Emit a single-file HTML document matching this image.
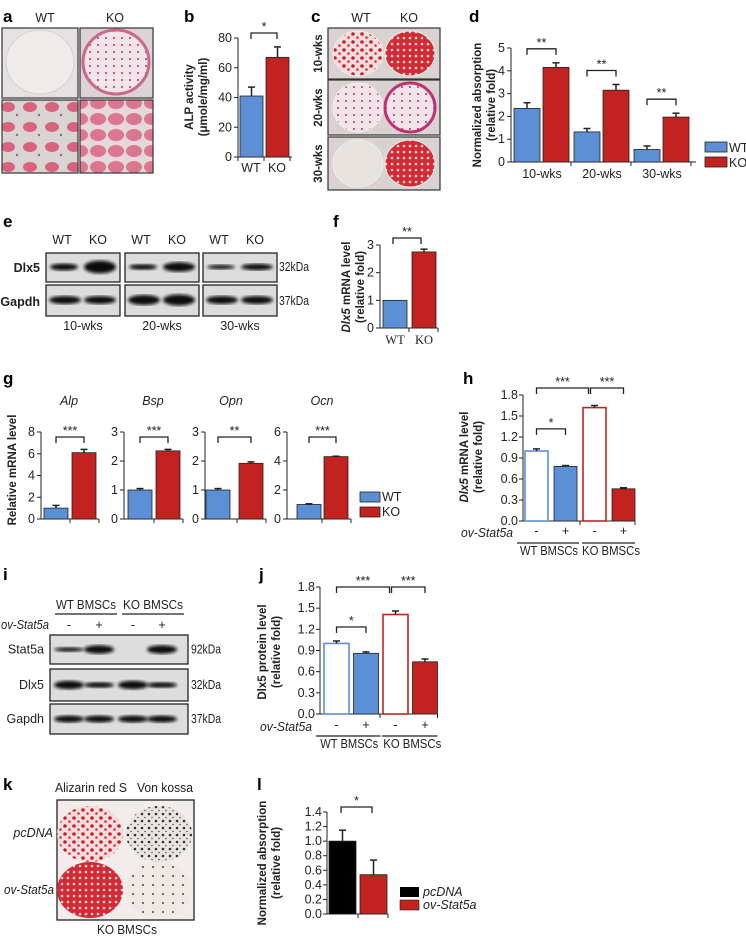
<!DOCTYPE html>
<html><head><meta charset="utf-8"><style>
html,body{margin:0;padding:0;background:#fff}
svg{display:block;font-family:"Liberation Sans Narrow","Liberation Sans",sans-serif}
.lbl{font-family:"Liberation Sans",sans-serif;font-weight:bold;font-size:17px}
.t{font-size:12.5px;fill:#222}
.ti{font-family:"Liberation Sans",sans-serif;font-weight:bold;font-size:11.5px;fill:#222}
</style></head><body>
<svg id="fig" width="746" height="937" viewBox="0 0 746 937" xmlns="http://www.w3.org/2000/svg">
<defs>
<pattern id="speck" width="9" height="8" patternUnits="userSpaceOnUse"><rect width="9" height="8" fill="#f3dede"/><circle cx="2" cy="2" r="1.8" fill="#c8202a"/><circle cx="6.5" cy="5.5" r="1.3" fill="#d63040"/></pattern>
<pattern id="speck2" width="6" height="6" patternUnits="userSpaceOnUse"><rect width="6" height="6" fill="#d42a35"/><circle cx="2" cy="2" r="1.3" fill="#f6d8d8"/></pattern>
<pattern id="speck3" width="8" height="7" patternUnits="userSpaceOnUse"><rect width="8" height="7" fill="#f2e4e8"/><circle cx="2" cy="3" r="1" fill="#c0305a"/></pattern>
<pattern id="dark" width="7" height="7" patternUnits="userSpaceOnUse"><rect width="7" height="7" fill="#e9e4e0"/><circle cx="2" cy="2" r="1.3" fill="#333"/><circle cx="5" cy="5.5" r="0.8" fill="#555"/></pattern>
<pattern id="dark2" width="10" height="9" patternUnits="userSpaceOnUse"><rect width="10" height="9" fill="#eee9e4"/><circle cx="3" cy="3" r="1" fill="#444"/></pattern>
<pattern id="cells" width="22" height="20" patternUnits="userSpaceOnUse"><rect width="22" height="20" fill="#d9d4d2"/><ellipse cx="8" cy="7" rx="7" ry="5" fill="#d9637f"/><circle cx="17" cy="15" r="1.2" fill="#777"/></pattern>
<pattern id="cells2" width="18" height="16" patternUnits="userSpaceOnUse"><rect width="18" height="16" fill="#e5d7da"/><ellipse cx="8" cy="7" rx="8" ry="6" fill="#dc7690"/></pattern>
<filter id="blur"><feGaussianBlur stdDeviation="1.6"/></filter>
</defs>
<g id="static"></g>
<g id="charts"></g>
</svg>
<script>
// ---------- data ----------
const bCats = ["WT","KO"];
const bVals = [41, 67];
const bErr = [6, 7];
const bTicks = [0,20,40,60,80];

const dCats = ["10-wks","20-wks","30-wks"];
const dWT = [2.35, 1.32, 0.55];
const dKO = [4.15, 3.15, 1.97];
const dWTErr = [0.25, 0.15, 0.15];
const dKOErr = [0.2, 0.25, 0.17];
const dTicks = [0,1,2,3,4,5];

const fCats = ["WT","KO"];
const fVals = [1.0, 2.75];
const fErr = [0, 0.1];
const fTicks = [0,1,2,3];

const gGenes = ["Alp","Bsp","Opn","Ocn"];
const gWT = [1.0, 1.0, 1.0, 1.0];
const gKO = [6.1, 2.35, 1.92, 4.3];
const gWTErr = [0.25, 0.05, 0.05, 0.05];
const gKOErr = [0.3, 0.05, 0.05, 0.03];
const gMax = [8, 3, 3, 6];
const gTicks = [[0,2,4,6,8],[0,1,2,3],[0,1,2,3],[0,2,4,6]];
const gSig = ["***","***","**","***"];

const hCats = ["-","+","-","+"];
const hVals = [1.0, 0.78, 1.62, 0.46];
const hErr = [0.03, 0.012, 0.03, 0.015];
const hTicks = [0,0.3,0.6,0.9,1.2,1.5,1.8];

const jCats = ["-","+","-","+"];
const jVals = [1.0, 0.86, 1.41, 0.74];
const jErr = [0.035, 0.02, 0.05, 0.04];
const jTicks = [0,0.3,0.6,0.9,1.2,1.5,1.8];

const lCats = ["pcDNA","ov-Stat5a"];
const lVals = [1.0, 0.54];
const lErr = [0.15, 0.2];
const lTicks = [0,0.2,0.4,0.6,0.8,1.0,1.2,1.4];

const BLUE="#5c8fd5", RED="#c3231f";
const NS="http://www.w3.org/2000/svg";
const charts=document.getElementById('charts');
const stat=document.getElementById('static');
function mk(tag,attrs,parent){const e=document.createElementNS(NS,tag);for(const k in attrs)e.setAttribute(k,attrs[k]);(parent||charts).appendChild(e);return e;}
function txt(x,y,s,cls,parent,anchor,extra){const e=mk('text',Object.assign({x:x,y:y,class:cls||'t','text-anchor':anchor||'middle'},extra||{}),parent);e.textContent=s;return e;}
function sq(len){return {textLength:len,lengthAdjust:'spacingAndGlyphs'};}
function line(x1,y1,x2,y2,p,w){return mk('line',{x1:x1,y1:y1,x2:x2,y2:y2,stroke:'#222','stroke-width':w||1},p);}

function yScale(base,top,max){return v=>base-(base-top)*v/max;}
function yAxis(g,x,base,top,max,ticks,dec,lx){
  const y=yScale(base,top,max);
  line(x,top,x,base,g);
  ticks.forEach(t=>{line(x-4,y(t),x,y(t),g);
    const tl=txt(lx,y(t)+4,t.toFixed(dec),'t',g,'end');
    });
  return y;
}
function bar(g,x,w,v,e,y,fill,stroke,name){
  const r=mk('rect',{x:x,y:y(v),width:w,height:y(0)-y(v),fill:fill,stroke:stroke||'#222','stroke-width':stroke?1.6:0.8},g);
  
  if(e>0){const cx=x+w/2;line(cx,y(v),cx,y(v+e),g,1.5);line(cx-3.5,y(v+e),cx+3.5,y(v+e),g,1.5);}
  return r;
}
function bracket(g,x1,x2,yy,s,name){
  const p=mk('path',{d:`M${x1},${yy+6}V${yy}H${x2}V${yy+6}`,fill:'none',stroke:'#222','stroke-width':1.3},g);
  
  txt((x1+x2)/2,yy-2,s,'t',g,'middle',{'font-size':'12'});
}
function group(name){const g=mk('g',{});return g;}
function rotTitle(g,x,y,lines){lines.forEach((s,i)=>{txt(x+i*14,y,s,'ti',g,'middle',{transform:`rotate(-90 ${x+i*14} ${y})`});});}

// ---- panel b ----
(function(){const g=group('chart-b-alp-activity');
  const y=yAxis(g,238,157,38,80,bTicks,0,232);
  line(238,157,292,157,g);[238,264,290].forEach(x=>line(x,157,x,161,g));
  const cols=[BLUE,RED];
  bVals.forEach((v,i)=>{bar(g,240+i*26,23,v,bErr[i],y,cols[i],null,'bar-b-'+bCats[i].toLowerCase());txt(251+i*26,172,bCats[i],'t',g);});
  bracket(g,251,277,33,'*','sig-bracket-b');
  rotTitle(g,193,97,['ALP activity','(μmole/mg/ml)']);
})();

// ---- panel d ----
(function(){const g=group('chart-d-normalized-absorption');
  const y=yAxis(g,511,162,48,5,dTicks,0,505);
  line(511,162,696,162,g);
  dCats.forEach((c,i)=>{const x0=514+i*60;
    bar(g,x0,26,dWT[i],dWTErr[i],y,BLUE,null,'bar-d-wt-'+c);
    bar(g,x0+29,26,dKO[i],dKOErr[i],y,RED,null,'bar-d-ko-'+c);
    line(x0+57,162,x0+57,166,g);
    txt(x0+28,178,c,'t',g);
    bracket(g,x0+13,x0+42,y(Math.max(dWT[i]+dWTErr[i],dKO[i]+dKOErr[i]))-14,'**','sig-bracket-d');
  });
  rotTitle(g,481,105,['Normalized absorption','(relative fold)']);
  const lg=group('legend-d');
  mk('rect',{x:705,y:142,width:22,height:10,fill:BLUE,stroke:'#222','stroke-width':0.8},lg);
  mk('rect',{x:705,y:157,width:22,height:10,fill:RED,stroke:'#222','stroke-width':0.8},lg);
  txt(729,152,'WT','t',lg,'start');txt(729,167,'KO','t',lg,'start');
})();

// ---- panel f ----
(function(){const g=group('chart-f-dlx5-mrna');
  const y=yAxis(g,380,328,245,3,fTicks,0,374);
  line(380,328,438,328,g);[409,438].forEach(x=>line(x,328,x,332,g));
  const cols=[BLUE,RED];
  fVals.forEach((v,i)=>{bar(g,383+i*29,24,v,fErr[i],y,cols[i],null,'bar-f-'+fCats[i].toLowerCase());
    txt(395+i*29,344,fCats[i],'t',g,'middle',{'font-family':'Liberation Serif'});});
  bracket(g,393,421,238,'**','sig-bracket-f');
  const t=txt(350,287,'','ti',g,'middle',{transform:'rotate(-90 350 287)'});
  t.innerHTML='<tspan font-style="italic">Dlx5</tspan> mRNA level';
  txt(364,287,'(relative fold)','ti',g,'middle',{transform:'rotate(-90 364 287)'});
})();

// ---- panel g ----
(function(){const axX=[41,124,205,287], off=[3,4,1,10], step=[28,28,33,27];
  gGenes.forEach((gn,i)=>{const g=group('chart-g-'+gn.toLowerCase());
    const ax=axX[i];
    const y=yAxis(g,ax,519,432,gMax[i],gTicks[i],0,ax-6);
    const xl=ax+off[i]+step[i]+27;
    line(ax,519,xl,519,g);[ax+off[i]+step[i]-2,xl].forEach(x=>line(x,519,x,523,g));
    bar(g,ax+off[i],24,gWT[i],gWTErr[i],y,BLUE,null,'bar-g-wt-'+gn);
    bar(g,ax+off[i]+step[i],24,gKO[i],gKOErr[i],y,RED,null,'bar-g-ko-'+gn);
    bracket(g,ax+off[i]+12,ax+off[i]+step[i]+12,437,gSig[i],'sig-bracket-g');
    txt(ax+off[i]+25,405,gn,'t',g,'middle',{'font-style':'italic','font-size':'12.5'});
  });
  const g=group('g-axis-title');
  txt(16,470,'Relative mRNA level','ti',g,'middle',{transform:'rotate(-90 16 470)'});
  const lg=group('legend-g');
  mk('rect',{x:360,y:492,width:20,height:10,fill:BLUE,stroke:'#222','stroke-width':0.8},lg);
  mk('rect',{x:360,y:507,width:20,height:10,fill:RED,stroke:'#222','stroke-width':0.8},lg);
  txt(382,501,'WT','t',lg,'start');txt(382,516,'KO','t',lg,'start');
})();

// ---- panels h & j ----
function stat5Chart(name,vals,errs,ticks,cats,axX,base,top,first,step,w,ovY,glY,sigs,starGap){
  const g=group(name);
  const y=yAxis(g,axX,base,top,1.8,ticks,1,axX-5);
  const xEnd=first+3*step+w;
  line(axX,base,xEnd,base,g);[first+2*step-3,xEnd].forEach(x=>line(x,base,x,base+4,g));
  const fills=['#fff',BLUE,'#fff',RED], strokes=[BLUE,null,RED,null];
  vals.forEach((v,i)=>{bar(g,first+i*step,w,v,errs[i],y,fills[i],strokes[i],name+'-bar-'+i);
    txt(first+i*step+w/2,ovY,cats[i],'t',g);});
  txt(first-12,ovY+2,'ov-Stat5a','t',g,'end',Object.assign({'font-style':'italic'},sq(52)));
  line(first-8,glY,first+step+w+2,glY,g,1.2);line(first+2*step-1,glY,xEnd,glY,g,1.2);
  txt(first+step/2+w/2-2,glY+12,'WT BMSCs','t',g,'middle',sq(58));txt(first+2.5*step+w/2+2,glY+12,'KO BMSCs','t',g,'middle',sq(58));
  const c=i=>first+i*step+w/2;
  bracket(g,c(0),c(2)-6,sigs[0],'***','sig-bracket');
  bracket(g,c(2)-4,c(3),sigs[0],'***','sig-bracket');
  bracket(g,c(0),c(1),y(vals[0]+errs[0])-starGap,'*','sig-bracket');
  return g;
}
(function(){const g=stat5Chart('chart-h-dlx5-mrna',hVals,hErr,hTicks,hCats,523,521,395,525,29,23,535,543,[388],20);
  const t=txt(468,457,'','ti',g,'middle',{transform:'rotate(-90 468 457)'});
  t.innerHTML='<tspan font-style="italic">Dlx5</tspan> mRNA level';
  txt(482,457,'(relative fold)','ti',g,'middle',{transform:'rotate(-90 482 457)'});
})();
(function(){const g=stat5Chart('chart-j-dlx5-protein',jVals,jErr,jTicks,jCats,320,714,587,324,29.5,25,729,736,[587],14);
  rotTitle(g,266,652,['Dlx5 protein level','(relative fold)']);
})();

// ---- panel l ----
(function(){const g=group('chart-l-normalized-absorption');
  const y=yAxis(g,327,914,812,1.4,lTicks,1,322);
  line(327,914,388,914,g);[358,388].forEach(x=>line(x,914,x,918,g));
  const cols=['#000',RED];
  lVals.forEach((v,i)=>bar(g,329+i*31,27,v,lErr[i],y,cols[i],null,'bar-l-'+lCats[i].toLowerCase()));
  bracket(g,341,372,807,'*','sig-bracket-l');
  rotTitle(g,266,863,['Normalized absorption','(relative fold)']);
  const lg=group('legend-l');
  mk('rect',{x:400,y:887,width:19,height:10,fill:'#000'},lg);
  mk('rect',{x:400,y:900,width:19,height:10,fill:RED,stroke:'#222','stroke-width':0.6},lg);
  txt(423,896,'pcDNA','t',lg,'start',{'font-style':'italic'});txt(423,909,'ov-Stat5a','t',lg,'start',{'font-style':'italic'});
})();

// ---------- static ----------
function S(tag,attrs,name){const e=mk(tag,attrs,stat);if(name){}return e;}
[['a',3,22],['b',184,22],['c',311,22],['d',469,22],['e',3,227],['f',333,227],['g',3,384],['h',463,384],['i',3,580],['j',259,580],['k',3,790],['l',257,790]].forEach(p=>{const t=txt(p[1],p[2],p[0],'lbl',stat,'start');});
txt(45,22,'WT','t',stat);txt(115,22,'KO','t',stat);
S('rect',{x:2,y:28,width:76,height:70,fill:'#e6e2e2',stroke:'#333','stroke-width':1.2},'photo-a-wt-plate');
S('ellipse',{cx:40,cy:62,rx:34,ry:32,fill:'#eeebeb',stroke:'#d5cfcf'});
S('rect',{x:80,y:28,width:73,height:70,fill:'#ddd2d5',stroke:'#333','stroke-width':1.2},'photo-a-ko-plate');
S('ellipse',{cx:116,cy:62,rx:33,ry:32,fill:'url(#speck3)',stroke:'#c86a88','stroke-width':3});
S('rect',{x:2,y:100,width:76,height:73,fill:'url(#cells)',stroke:'#333','stroke-width':1.2},'photo-a-wt-cells');
S('rect',{x:80,y:100,width:73,height:73,fill:'url(#cells2)',stroke:'#333','stroke-width':1.2},'photo-a-ko-cells');
txt(361,22,'WT','t',stat);txt(409,22,'KO','t',stat);
[[28,79,'10-wks','url(#speck)','url(#speck2)'],[80,135,'20-wks','url(#speck3)','url(#speck3)'],[137,190,'30-wks','#e8e2df','url(#speck2)']].forEach(r=>{
  S('rect',{x:328,y:r[0],width:112,height:r[1]-r[0],fill:'#d8d2d0',stroke:'#333','stroke-width':1.2},'photo-c-'+r[2]);
  const cy=(r[0]+r[1])/2, ry=(r[1]-r[0])/2-3;
  S('ellipse',{cx:358,cy:cy,rx:25,ry:ry,fill:r[3],stroke:'#eee'});
  S('ellipse',{cx:410,cy:cy,rx:25,ry:ry,fill:r[4],stroke:r[2]=='20-wks'?'#c03070':'#eee','stroke-width':r[2]=='20-wks'?3:1});
  txt(322,cy,r[2],'ti',stat,'middle',{transform:`rotate(-90 322 ${cy})`,'font-size':'12'});
});
const eBoxes=[46,125,203];
eBoxes.forEach((x,k)=>{
  txt(x+16,244,'WT','t',stat);txt(x+52,244,'KO','t',stat);
  S('rect',{x:x,y:253,width:74,height:29,fill:'#dcdcdc',stroke:'#222','stroke-width':1.3},'blot-e-dlx5-'+k);
  S('rect',{x:x,y:285,width:74,height:31,fill:'#dcdcdc',stroke:'#222','stroke-width':1.3},'blot-e-gapdh-'+k);
  const wt=[5,4,3][k], ko=[8,6,4][k];
  S('ellipse',{cx:x+18,cy:267,rx:14,ry:wt*0.7,fill:'#111',filter:'url(#blur)'});
  S('ellipse',{cx:x+54,cy:267,rx:16,ry:ko*0.8,fill:'#111',filter:'url(#blur)'});
  S('ellipse',{cx:x+19,cy:300,rx:16,ry:k==1?5:4,fill:'#111',filter:'url(#blur)'});
  S('ellipse',{cx:x+54,cy:300,rx:16,ry:k==1?5.5:4,fill:'#111',filter:'url(#blur)'});
  txt(x+37,330,['10-wks','20-wks','30-wks'][k],'t',stat);
});
txt(40,272,'Dlx5','t',stat,'end',{'font-weight':'bold'});txt(40,306,'Gapdh','t',stat,'end',{'font-weight':'bold'});
txt(279,271,'32kDa','t',stat,'start',Object.assign({'font-size':'11'},sq(30)));txt(279,305,'37kDa','t',stat,'start',Object.assign({'font-size':'11'},sq(30)));
txt(86,609,'WT BMSCs','t',stat,'middle',sq(60));txt(153,609,'KO BMSCs','t',stat,'middle',sq(60));
line(55,614,117,614,stat,1.2);line(122,614,184,614,stat,1.2);
txt(49,629,'ov-Stat5a','t',stat,'end',Object.assign({'font-style':'italic'},sq(48)));
['-','+','-','+'].forEach((s,i)=>txt([69,99,133,162][i],629,s,'t',stat));
[[635,664,'Stat5a','92kDa',[3,6,0,6]],[669,701,'Dlx5','32kDa',[6,4,6,4]],[704,734,'Gapdh','37kDa',[5,5,5,5]]].forEach(r=>{
  S('rect',{x:50,y:r[0],width:138,height:r[1]-r[0],fill:'#dddddd',stroke:'#222','stroke-width':1.3},'blot-i-'+r[2].toLowerCase());
  const cy=(r[0]+r[1])/2;
  [69,99,133,162].forEach((cx,i)=>{if(r[4][i])S('ellipse',{cx:cx,cy:cy,rx:15,ry:r[4][i]*0.7,fill:'#111',filter:'url(#blur)'});});
  txt(44,cy+4,r[2],'t',stat,'end');txt(191,cy+4,r[3],'t',stat,'start',Object.assign({'font-size':'11'},sq(30)));
});
txt(91,792,'Alizarin red S','t',stat,'middle',sq(72));txt(165,792,'Von kossa','t',stat,'middle',sq(56));
S('rect',{x:57,y:800,width:137,height:120,fill:'#f2ecec',stroke:'#222','stroke-width':1.3},'photo-k-plate');
S('ellipse',{cx:90,cy:834,rx:33,ry:28,fill:'url(#speck)'});
S('ellipse',{cx:90,cy:890,rx:33,ry:28,fill:'url(#speck2)'});
S('ellipse',{cx:159,cy:834,rx:33,ry:28,fill:'url(#dark)'});
S('ellipse',{cx:159,cy:890,rx:33,ry:28,fill:'url(#dark2)'});
txt(53,837,'pcDNA','t',stat,'end',{'font-style':'italic','font-size':'12.5'});
txt(54,894,'ov-Stat5a','t',stat,'end',Object.assign({'font-style':'italic','font-size':'12.5'},sq(50)));
txt(127,934,'KO BMSCs','t',stat,'middle',sq(60));
</script>
</body></html>
